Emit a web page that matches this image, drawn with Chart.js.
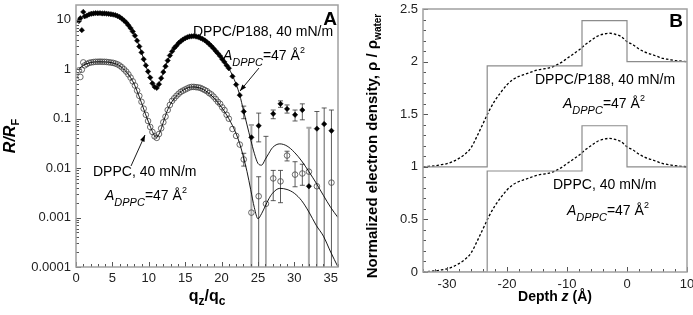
<!DOCTYPE html>
<html>
<head>
<meta charset="utf-8">
<script src="https://cdn.jsdelivr.net/npm/chart.js@4.4.1/dist/chart.umd.min.js"></script>
<style>
  body { margin: 0; background: #fff; }
  #wrap { position: relative; width: 693px; height: 315px; }
  canvas { position: absolute; top: 0; }
</style>
</head>
<body>
<div id="wrap">
  <canvas id="refl" width="350" height="315" style="left:0"></canvas>
  <canvas id="dens" width="343" height="315" style="left:350px"></canvas>
</div>
<script>
// ---- panel A: reflectivity R/RF vs qz/qc ----
const qDense = [0.4,0.6,0.8,1.0,1.2,1.5,1.8,2.1,2.4,2.7,3.0,3.3,3.6,3.9,4.2,4.5,4.8,5.1,5.4,5.7,
  6.0,6.3,6.6,6.9,7.2,7.5,7.8,8.1,8.4,8.7,9.0,9.3,9.6,9.9,10.2,10.5,10.8,11.1,11.4,11.7,
  12.0,12.3,12.6,12.9,13.2,13.5,13.8,14.1,14.4,14.7,15.0,15.3,15.6,15.9,16.2,16.5,16.8,17.1,17.4,17.7,
  18.0,18.3,18.6,18.9,19.2,19.5,19.8,20.1,20.4,20.7,21.0,21.5,22.0,22.5,23.05];
// DPPC/P188 (filled diamonds, shifted x10)
const topDense = [9.5,10.8,6.2,14.5,11.8,12.2,12.9,13.3,13.5,13.7,13.6,13.7,13.5,13.5,13.4,13.2,13.0,12.8,12.5,12.0,
  11.4,10.6,9.7,8.8,7.8,6.8,5.8,4.8,3.8,2.9,2.2,1.6,1.2,0.9,0.68,0.52,0.44,0.42,0.5,0.66,
  0.88,1.15,1.5,1.9,2.3,2.7,3.0,3.4,3.7,4.0,4.25,4.45,4.6,4.65,4.7,4.6,4.5,4.3,4.1,3.85,
  3.55,3.25,2.95,2.65,2.35,2.1,1.85,1.6,1.4,1.2,1.05,0.72,0.49,0.3,0.14];
// DPPC (open circles)
const botDense = [0.95,0.7,0.98,1.38,1.2,1.28,1.35,1.38,1.4,1.42,1.42,1.43,1.42,1.42,1.41,1.39,1.37,1.35,1.31,1.26,
  1.19,1.1,1.0,0.9,0.79,0.68,0.57,0.47,0.37,0.29,0.22,0.16,0.12,0.09,0.068,0.054,0.044,0.041,0.049,0.064,
  0.085,0.11,0.15,0.19,0.23,0.26,0.29,0.32,0.35,0.37,0.39,0.41,0.43,0.44,0.44,0.435,0.43,0.42,0.4,0.38,
  0.36,0.33,0.31,0.28,0.25,0.22,0.2,0.17,0.15,0.12,0.1,0.062,0.045,0.03,0.015];
const qTopTail = [24.1,25.1,27.1,28.1,29.0,30.1,31.1,32.0,33.1,34.1,35.1];
const topTail  = [0.042,0.072,0.126,0.2,0.158,0.12,0.15,0.0043,0.063,0.078,0.057];
const qBotTail = [24.1,25.1,26.1,27.1,28.1,29.0,30.1,31.1,32.0,33.1,35.1];
const botTail  = [0.00126,0.0027,0.0019,0.0062,0.0054,0.018,0.0074,0.0078,0.0085,0.0043,0.0051];

// error bars (lo = 0.0001 means the bar runs to the bottom of the axis)
const errQ    = [23.05,23.05,24.1,25.1,25.1,26.1,27.1,27.1,28.1,28.1,29.0,29.0,30.1,30.1,31.1,31.1,32.0,33.1,34.1,35.1];
const errLo   = [0.1,0.011,0.0001,0.034,0.0001,0.0001,0.1,0.0022,0.17,0.002,0.13,0.014,0.09,0.0042,0.095,0.0045,0.0001,0.0001,0.0001,0.0001];
const errHi   = [0.18,0.02,0.075,0.13,0.0067,0.044,0.15,0.009,0.23,0.009,0.19,0.022,0.15,0.0135,0.2,0.012,0.066,0.14,0.165,0.15];
const errGray = [0,0,1,0,0,0,0,0,0,0,0,0,0,0,0,0,1,0,0,0];

// model fits (solid lines)
const qFit   = [0.5,1,1.5,2,3,4,5,6,7,7.5,8,8.5,9,9.5,10,10.5,11,11.5,12,12.5,13,14,15,16,17,18,19,20,21,
  22,22.5,23,23.5,24,24.5,25,25.5,26,26.5,27,28,29,30,31,32,33,34,35,36];
const fitTop = [10.5,11.8,12.4,13.0,13.5,13.4,12.9,11.4,8.5,6.8,5.1,3.5,2.2,1.3,0.8,0.52,0.43,0.55,0.88,1.4,2.0,3.3,4.25,4.65,4.35,3.55,2.55,1.7,1.05,
  0.5,0.3,0.15,0.075,0.038,0.02,0.0125,0.0115,0.015,0.02,0.026,0.031,0.028,0.021,0.014,0.0085,0.005,0.0028,0.0016,0.001];
const fitBot = [1.05,1.2,1.3,1.37,1.42,1.41,1.35,1.18,0.86,0.68,0.5,0.33,0.21,0.13,0.083,0.055,0.042,0.052,0.085,0.14,0.2,0.31,0.4,0.44,0.42,0.35,0.26,0.17,0.1,
  0.05,0.031,0.017,0.0085,0.0037,0.0016,0.00095,0.0012,0.0017,0.0024,0.0031,0.0039,0.0037,0.0031,0.0022,0.0013,0.0007,0.00042,0.0002,0.0001];

const qTicks = [0,5,10,15,20,25,30,35];
const rTicks = [0.0001,0.001,0.01,0.1,1,10];
const rTickLabels = ['0.0001','0.001','0.01','0.1','1','10'];

// ---- panel B: electron density profiles ----
const zGrid = [-34,-33,-32,-31,-30,-29,-28,-27,-26,-25,-24,-23,-22,-21,-20,-19,-18,-17,-16,-15,-14,-13,-12,
  -11,-10,-9,-8,-7,-6,-5,-4,-3,-2,-1,0,1,2,3,4,5,6,7,8,9,10];
const rhoDppc = [0.00,0.005,0.01,0.02,0.03,0.05,0.08,0.12,0.18,0.29,0.41,0.53,0.63,0.71,0.78,0.83,0.86,0.88,0.90,0.92,0.93,0.94,0.96,
  0.99,1.03,1.07,1.11,1.16,1.20,1.24,1.26,1.27,1.26,1.24,1.19,1.16,1.12,1.09,1.07,1.05,1.03,1.02,1.01,1.005,1.00];
const rhoP188 = [1.00,1.005,1.01,1.02,1.03,1.05,1.08,1.12,1.18,1.29,1.41,1.53,1.63,1.71,1.78,1.83,1.86,1.88,1.90,1.92,1.93,1.94,1.96,
  1.99,2.03,2.07,2.11,2.16,2.20,2.24,2.26,2.27,2.26,2.24,2.19,2.16,2.12,2.09,2.07,2.05,2.03,2.02,2.01,2.005,2.00];
// box (slab) models, corners listed explicitly
const boxZ    = [-34,-23.3,-23.3,-7.5,-7.5,0,0,10];
const boxDppc = [0,0,0.96,0.96,1.39,1.39,1.0,1.0];
const boxP188 = [1.0,1.0,1.96,1.96,2.39,2.39,2.0,2.0];
const zTicks = [-30,-20,-10,0,10];
const rhoTicks = [0,0.5,1,1.5,2,2.5];
const rhoTickLabels = ['0','0.5','1','1.5','2','2.5'];

const FF = '"Liberation Sans", Arial, Helvetica, sans-serif';
const f = (style, size) => `${style} ${size}px ${FF}`;
const pts = (xs, ys) => xs.map((x, i) => ({ x: x, y: ys[i] }));

function areaParts() {
  return [
    { t: 'A', font: f('italic', 14) },
    { t: 'DPPC', font: f('italic', 11), dy: 6 },
    { t: '=47 Å', font: f('normal', 14) },
    { t: '2', font: f('normal', 9), dy: -7 }
  ];
}

function drawParts(ctx, x, y, parts, align) {
  let w = 0;
  parts.forEach(p => { ctx.font = p.font; w += ctx.measureText(p.t).width; });
  let cx = align === 'right' ? x - w : align === 'center' ? x - w / 2 : x;
  parts.forEach(p => {
    ctx.font = p.font;
    ctx.fillText(p.t, cx, y + (p.dy || 0));
    cx += ctx.measureText(p.t).width;
  });
}

// frame, inward ticks, texts, arrows
const decor = {
  id: 'decor',
  afterDatasetsDraw(chart, args, o) {
    const { ctx, chartArea: a, scales } = chart;
    ctx.save();
    ctx.strokeStyle = '#555';
    ctx.lineWidth = 1;
    ctx.beginPath();
    o.xMajor.forEach(v => { const p = Math.round(scales.x.getPixelForValue(v)) + 0.5; ctx.moveTo(p, a.bottom); ctx.lineTo(p, a.bottom - 5); });
    o.xMinor.forEach(v => { const p = Math.round(scales.x.getPixelForValue(v)) + 0.5; ctx.moveTo(p, a.bottom); ctx.lineTo(p, a.bottom - 3); });
    o.yMajor.forEach(v => { const p = Math.round(scales.y.getPixelForValue(v)) + 0.5; ctx.moveTo(a.left, p); ctx.lineTo(a.left + 5, p); });
    o.yMinor.forEach(v => { const p = Math.round(scales.y.getPixelForValue(v)) + 0.5; ctx.moveTo(a.left, p); ctx.lineTo(a.left + 3, p); });
    ctx.stroke();
    ctx.strokeStyle = '#a0a0a0';
    ctx.lineWidth = 1.5;
    ctx.strokeRect(a.left, a.top, a.right - a.left, a.bottom - a.top);

    ctx.fillStyle = '#000';
    ctx.textBaseline = 'alphabetic';
    o.items.forEach(it => {
      if (it.rot) {
        ctx.save();
        ctx.translate(it.x, it.y);
        ctx.rotate(-Math.PI / 2);
        drawParts(ctx, 0, 0, it.parts, 'center');
        ctx.restore();
      } else {
        drawParts(ctx, it.x, it.y, it.parts, it.align);
      }
    });

    ctx.strokeStyle = '#000';
    ctx.lineWidth = 0.9;
    (o.arrows || []).forEach(([x0, y0, x1, y1]) => {
      const ang = Math.atan2(y1 - y0, x1 - x0);
      ctx.beginPath(); ctx.moveTo(x0, y0); ctx.lineTo(x1, y1); ctx.stroke();
      ctx.beginPath();
      ctx.moveTo(x1, y1);
      ctx.lineTo(x1 - 7 * Math.cos(ang - 0.35), y1 - 7 * Math.sin(ang - 0.35));
      ctx.lineTo(x1 - 7 * Math.cos(ang + 0.35), y1 - 7 * Math.sin(ang + 0.35));
      ctx.closePath(); ctx.fill();
    });
    ctx.restore();
  }
};

// error bars for panel A
const errorBars = {
  id: 'errorBars',
  beforeDatasetsDraw(chart) {
    const { ctx, chartArea: a, scales: { x, y } } = chart;
    ctx.save();
    ctx.beginPath(); ctx.rect(a.left, a.top, a.right - a.left, a.bottom - a.top); ctx.clip();
    errQ.forEach((q, i) => {
      const px = x.getPixelForValue(q);
      const yLo = y.getPixelForValue(errLo[i]);
      const yHi = y.getPixelForValue(errHi[i]);
      ctx.strokeStyle = errGray[i] ? '#a8a8a8' : '#333';
      ctx.lineWidth = errGray[i] ? 2 : 0.8;
      ctx.beginPath();
      ctx.moveTo(px, yLo); ctx.lineTo(px, yHi);
      ctx.moveTo(px - 2.5, yHi); ctx.lineTo(px + 2.5, yHi);
      if (errLo[i] > 0.0001) { ctx.moveTo(px - 2.5, yLo); ctx.lineTo(px + 2.5, yLo); }
      ctx.stroke();
    });
    ctx.restore();
  }
};

const tickFont = { family: FF, size: 13 };

function logMinor() {
  const out = [];
  for (let e = -4; e <= 1; e++) for (let k = 2; k <= 9; k++) { const v = k * Math.pow(10, e); if (v < 20) out.push(v); }
  return out;
}
function steps(from, to, step) {
  const out = [];
  for (let v = from; v <= to + 1e-9; v += step) out.push(Math.round(v * 100) / 100);
  return out;
}

new Chart(document.getElementById('refl'), {
  type: 'scatter',
  data: {
    datasets: [
      { data: pts(qFit, fitTop), showLine: true, borderColor: '#000', borderWidth: 0.9, pointRadius: 0, cubicInterpolationMode: 'monotone' },
      { data: pts(qFit, fitBot), showLine: true, borderColor: '#000', borderWidth: 0.9, pointRadius: 0, cubicInterpolationMode: 'monotone' },
      { data: pts(qDense.concat(qTopTail), topDense.concat(topTail)), pointStyle: 'rectRot', pointRadius: 2.7,
        backgroundColor: '#000', borderColor: '#000', borderWidth: 0.5 },
      { data: pts(qDense.concat(qBotTail), botDense.concat(botTail)), pointStyle: 'circle', pointRadius: 2.8,
        backgroundColor: 'rgba(255,255,255,0)', borderColor: '#444', borderWidth: 0.8 }
    ]
  },
  options: {
    responsive: false,
    animation: false,
    devicePixelRatio: 1,
    layout: { padding: { left: 0, right: 12, top: 5, bottom: 0 } },
    scales: {
      x: {
        type: 'linear', min: 0, max: 36,
        grid: { display: false, drawTicks: false }, border: { display: false },
        ticks: { font: tickFont, color: '#222', padding: 4, maxRotation: 0, autoSkip: false },
        afterBuildTicks: s => { s.ticks = qTicks.map(v => ({ value: v })); },
        afterFit: s => { s.height = 48; s.paddingLeft = 0; s.paddingRight = 0; }
      },
      y: {
        type: 'logarithmic', min: 0.0001, max: 20,
        grid: { display: false, drawTicks: false }, border: { display: false },
        ticks: { font: tickFont, color: '#222', padding: 5, autoSkip: false, callback: (v, i) => rTickLabels[i] },
        afterBuildTicks: s => { s.ticks = rTicks.map(v => ({ value: v })); },
        afterFit: s => { s.width = 76; s.paddingTop = 0; s.paddingBottom = 0; }
      }
    },
    plugins: {
      legend: { display: false },
      tooltip: { enabled: false },
      decor: {
        xMajor: qTicks, xMinor: steps(1, 36, 1),
        yMajor: rTicks, yMinor: logMinor(),
        items: [
          { x: 337, y: 25, align: 'right', parts: [{ t: 'A', font: f('bold', 19) }] },
          { x: 193, y: 36, parts: [{ t: 'DPPC/P188, 40 mN/m', font: f('normal', 14) }] },
          { x: 223, y: 60, parts: areaParts() },
          { x: 93, y: 176, parts: [{ t: 'DPPC, 40 mN/m', font: f('normal', 14) }] },
          { x: 105, y: 200, parts: areaParts() },
          { x: 207, y: 301, align: 'center', parts: [
            { t: 'q', font: f('bold', 16) }, { t: 'z', font: f('bold', 12), dy: 4 },
            { t: '/q', font: f('bold', 16) }, { t: 'c', font: f('bold', 12), dy: 4 }] },
          { rot: true, x: 15, y: 136, parts: [
            { t: 'R/R', font: f('italic bold', 16) }, { t: 'F', font: f('bold', 11), dy: 4 }] }
        ],
        arrows: [[259, 68, 240, 91], [131, 166, 145, 135]]
      }
    }
  },
  plugins: [errorBars, decor]
});

new Chart(document.getElementById('dens'), {
  type: 'scatter',
  data: {
    datasets: [
      { data: pts(boxZ, boxDppc), showLine: true, borderColor: '#8c8c8c', borderWidth: 1.2, pointRadius: 0 },
      { data: pts(boxZ, boxP188), showLine: true, borderColor: '#8c8c8c', borderWidth: 1.2, pointRadius: 0 },
      { data: pts(zGrid, rhoDppc), showLine: true, borderColor: '#000', borderWidth: 1.3, borderDash: [2.5, 2], pointRadius: 0, cubicInterpolationMode: 'monotone' },
      { data: pts(zGrid, rhoP188), showLine: true, borderColor: '#000', borderWidth: 1.3, borderDash: [2.5, 2], pointRadius: 0, cubicInterpolationMode: 'monotone' }
    ]
  },
  options: {
    responsive: false,
    animation: false,
    devicePixelRatio: 1,
    layout: { padding: { left: 0, right: 6, top: 9, bottom: 0 } },
    scales: {
      x: {
        type: 'linear', min: -34, max: 10,
        grid: { display: false, drawTicks: false }, border: { display: false },
        ticks: { font: tickFont, color: '#222', padding: 5, maxRotation: 0, autoSkip: false },
        afterBuildTicks: s => { s.ticks = zTicks.map(v => ({ value: v })); },
        afterFit: s => { s.height = 43; s.paddingLeft = 0; s.paddingRight = 0; }
      },
      y: {
        type: 'linear', min: 0, max: 2.5,
        grid: { display: false, drawTicks: false }, border: { display: false },
        ticks: { font: tickFont, color: '#222', padding: 5, autoSkip: false, callback: (v, i) => rhoTickLabels[i] },
        afterBuildTicks: s => { s.ticks = rhoTicks.map(v => ({ value: v })); },
        afterFit: s => { s.width = 73; s.paddingTop = 0; s.paddingBottom = 0; }
      }
    },
    plugins: {
      legend: { display: false },
      tooltip: { enabled: false },
      decor: {
        xMajor: zTicks, xMinor: steps(-34, 10, 2),
        yMajor: rhoTicks, yMinor: steps(0.1, 2.4, 0.1),
        items: [
          { x: 333, y: 27, align: 'right', parts: [{ t: 'B', font: f('bold', 19) }] },
          { x: 185, y: 84, parts: [{ t: 'DPPC/P188, 40 mN/m', font: f('normal', 14) }] },
          { x: 213, y: 108, parts: areaParts() },
          { x: 203, y: 189, parts: [{ t: 'DPPC, 40 mN/m', font: f('normal', 14) }] },
          { x: 217, y: 215, parts: areaParts() },
          { x: 205, y: 301, align: 'center', parts: [
            { t: 'Depth ', font: f('bold', 14) }, { t: 'z', font: f('bold italic', 14) }, { t: ' (Å)', font: f('bold', 14) }] },
          { rot: true, x: 27, y: 146, parts: [
            { t: 'Normalized electron density, ρ / ρ', font: f('bold', 15) }, { t: 'water', font: f('bold', 10), dy: 4 }] }
        ]
      }
    }
  },
  plugins: [decor]
});
</script>
</body>
</html>
